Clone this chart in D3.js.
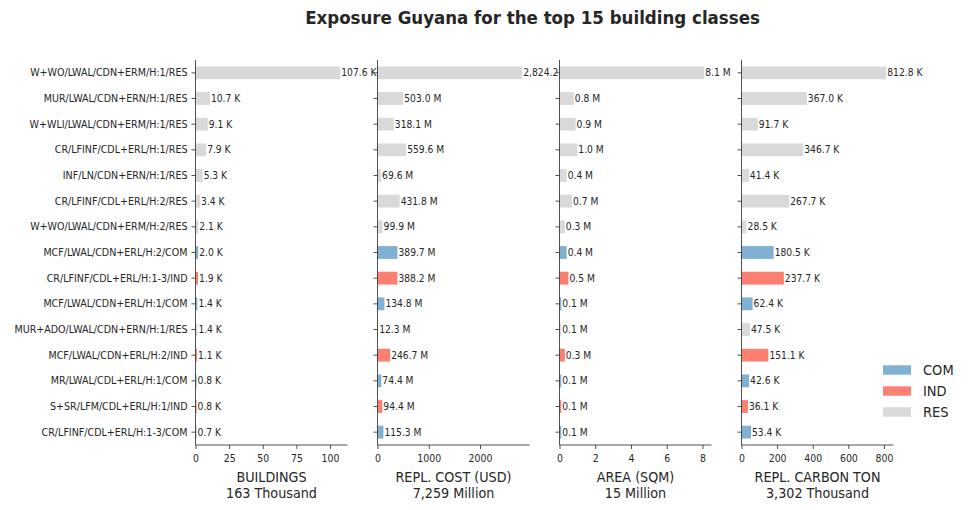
<!DOCTYPE html>
<html>
<head>
<meta charset="utf-8">
<script src="https://cdn.jsdelivr.net/npm/d3@7"></script>
<style>
  body { margin: 0; background: #fff; }
  text { font-family: "DejaVu Sans Condensed", "DejaVu Sans", sans-serif; fill: #262626; }
</style>
</head>
<body>
<div id="chart"></div>
<script>
// building classes, top to bottom
const classes = [
  "W+WO/LWAL/CDN+ERM/H:1/RES",
  "MUR/LWAL/CDN+ERN/H:1/RES",
  "W+WLI/LWAL/CDN+ERM/H:1/RES",
  "CR/LFINF/CDL+ERL/H:1/RES",
  "INF/LN/CDN+ERN/H:1/RES",
  "CR/LFINF/CDL+ERL/H:2/RES",
  "W+WO/LWAL/CDN+ERM/H:2/RES",
  "MCF/LWAL/CDN+ERL/H:2/COM",
  "CR/LFINF/CDL+ERL/H:1-3/IND",
  "MCF/LWAL/CDN+ERL/H:1/COM",
  "MUR+ADO/LWAL/CDN+ERN/H:1/RES",
  "MCF/LWAL/CDN+ERL/H:2/IND",
  "MR/LWAL/CDL+ERL/H:1/COM",
  "S+SR/LFM/CDL+ERL/H:1/IND",
  "CR/LFINF/CDL+ERL/H:1-3/COM"
]
const occupancy = ["RES", "RES", "RES", "RES", "RES", "RES", "RES", "COM", "IND", "COM", "RES", "IND", "COM", "IND", "COM"]

const buildings = [107.6, 10.7, 9.1, 7.9, 5.3, 3.4, 2.1, 2.0, 1.9, 1.4, 1.4, 1.1, 0.8, 0.8, 0.7]        // thousand
const replCost = [2824.2, 503.0, 318.1, 559.6, 69.6, 431.8, 99.9, 389.7, 388.2, 134.8, 12.3, 246.7, 74.4, 94.4, 115.3] // million
const area = [8.1, 0.8, 0.9, 1.0, 0.4, 0.7, 0.3, 0.4, 0.5, 0.1, 0.1, 0.3, 0.1, 0.1, 0.1]               // million
const carbon = [812.8, 367.0, 91.7, 346.7, 41.4, 267.7, 28.5, 180.5, 237.7, 62.4, 47.5, 151.1, 42.6, 36.1, 53.4] // thousand

const panelTitles = ["BUILDINGS", "REPL. COST (USD)", "AREA (SQM)", "REPL. CARBON TON"]
const panelTotals = ["163 Thousand", "7,259 Million", "15 Million", "3,302 Thousand"]
const panelUnits = ["K", "M", "M", "K"]
const panelTicks = [[0, 25, 50, 75, 100], [0, 1000, 2000], [0, 2, 4, 6, 8], [0, 200, 400, 600, 800]]

const legendKeys = ["COM", "IND", "RES"]
const colors = d3.scaleOrdinal(legendKeys, ["#80b1d3", "#fb8072", "#d9d9d9"])

const series = [buildings, replCost, area, carbon]

const width = 970
const height = 510
const dims = { top: 60, bottom: 445, panelWidth: 152, lefts: [195.5, 377.5, 559.5, 741.5] }

const svg = d3.select("#chart")
  .append("svg")
  .attr("width", width)
  .attr("height", height)

svg.append("text")
  .attr("x", 532.5)
  .attr("y", 24)
  .attr("text-anchor", "middle")
  .style("font-size", "18.5px")
  .style("font-weight", "bold")
  .text("Exposure Guyana for the top 15 building classes")

const yScale = d3.scaleBand()
  .domain(classes)
  .range([dims.top, dims.bottom])
  .paddingInner(0.5)
  .paddingOuter(0.25)

const fmt = d3.format(",.1f")

series.forEach((values, p) => {
  const left = dims.lefts[p]
  const g = svg.append("g").attr("transform", `translate(${left},0)`)

  // white axes background, covers overflowing labels of the previous panel
  g.append("rect")
    .attr("x", 0)
    .attr("y", dims.top)
    .attr("width", dims.panelWidth)
    .attr("height", dims.bottom - dims.top)
    .attr("fill", "#fff")

  const xScale = d3.scaleLinear()
    .domain([0, d3.max(values) * 1.05])
    .range([0, dims.panelWidth])

  g.selectAll("rect.bar")
    .data(values)
    .enter().append("rect")
    .attr("class", "bar")
    .attr("x", 0)
    .attr("y", (d, i) => yScale(classes[i]))
    .attr("width", d => xScale(d))
    .attr("height", yScale.bandwidth())
    .attr("fill", (d, i) => colors(occupancy[i]))

  g.selectAll("text.val")
    .data(values)
    .enter().append("text")
    .attr("class", "val")
    .attr("x", d => xScale(d) + 1)
    .attr("y", (d, i) => yScale(classes[i]) + yScale.bandwidth() / 2)
    .attr("dy", "0.35em")
    .style("font-size", "10.2px")
    .text(d => fmt(d) + " " + panelUnits[p])

  const yAxis = d3.axisLeft(yScale).tickSize(4).tickPadding(4)
  if (p > 0) yAxis.tickFormat("")
  const ya = g.append("g").call(yAxis)
  ya.select(".domain").remove()
  ya.selectAll("line").attr("stroke", "#262626").attr("stroke-width", 0.8)
  ya.selectAll("text").style("font-size", "10.6px").attr("fill", "#262626")

  const xAxis = d3.axisBottom(xScale).tickValues(panelTicks[p]).tickSize(4).tickPadding(6).tickFormat(d3.format("d"))
  const xa = g.append("g")
    .attr("transform", `translate(0,${dims.bottom})`)
    .call(xAxis)
  xa.select(".domain").remove()
  xa.selectAll("line").attr("stroke", "#262626").attr("stroke-width", 0.8)
  xa.selectAll("text").style("font-size", "10.4px").attr("fill", "#262626")

  // spines
  g.append("line")
    .attr("x1", 0).attr("x2", 0)
    .attr("y1", dims.top).attr("y2", dims.bottom)
    .attr("stroke", "#262626").attr("stroke-width", 0.8)
  g.append("line")
    .attr("x1", 0).attr("x2", dims.panelWidth)
    .attr("y1", dims.bottom).attr("y2", dims.bottom)
    .attr("stroke", "#262626").attr("stroke-width", 0.8)

  g.append("text")
    .attr("x", dims.panelWidth / 2)
    .attr("y", 481.5)
    .attr("text-anchor", "middle")
    .style("font-size", "14.2px")
    .text(panelTitles[p])
  g.append("text")
    .attr("x", dims.panelWidth / 2)
    .attr("y", 498)
    .attr("text-anchor", "middle")
    .style("font-size", "14.2px")
    .text(panelTotals[p])
})

const legend = svg.append("g")
  .selectAll("g")
  .data(legendKeys)
  .enter().append("g")
  .attr("transform", (d, i) => `translate(883,${370 + i * 21})`)

legend.append("rect")
  .attr("x", 0)
  .attr("y", -4.7)
  .attr("width", 28)
  .attr("height", 9.4)
  .attr("fill", colors)

legend.append("text")
  .attr("x", 40)
  .attr("y", 0)
  .attr("dy", "0.35em")
  .style("font-size", "14.5px")
  .text(d => d)
</script>
</body>
</html>
